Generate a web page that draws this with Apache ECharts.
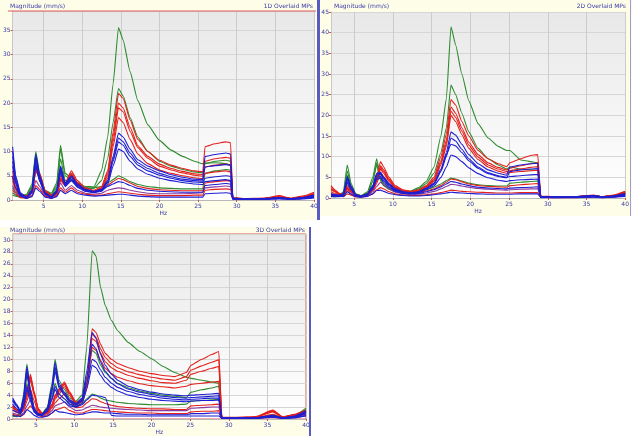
<!DOCTYPE html>
<html>
<head>
<meta charset="utf-8">
<script src="https://cdn.jsdelivr.net/npm/echarts@6/dist/echarts.min.js"></script>
<style>
  html, body { margin: 0; padding: 0; background: #fff; }
  #chart { width: 632px; height: 436px; }
</style>
</head>
<body>
<div id="chart"></div>
<script>
// ---- panel 1 (top left) ----
const p1Hz = [1,1.4,2,2.8,3.5,4,4.5,5.2,6,6.7,7.2,7.8,8.6,9.4,10.4,11.5,12.5,13.3,14,14.7,15.3,16.2,17.2,18.5,20,21.5,23,24.5,25.6,25.9,27.2,28.6,29.2,29.5,31,33.5,35.5,37,38.5,40];
const p1Green1 = [2.5,1.6,0.9,1.2,3.2,10,5.5,2,1.4,3.5,11.3,5.5,4.6,3.6,2.8,2.7,6,13,24,35.6,33,26.5,20.5,15.5,12.3,10.3,9,8,7.5,7.6,7.7,7.5,7.2,0.4,0.3,0.3,0.5,0.3,0.5,1.2];
const p1Green2 = [1.5,1,0.6,1,2.8,9.5,5,1.8,1.2,3,10.5,5,4.2,3.2,2.5,2.4,4,8.5,16,23,21.5,17,13,10,8,7,6.3,5.8,5.6,7.5,8,8.2,8,0.3,0.2,0.3,0.4,0.3,0.4,0.9];
const p1Green3 = [1,0.8,0.5,0.8,2.5,8,4,1.6,1,2.5,8.5,4,4,3,2.4,2.5,2.8,3.5,4.2,5,4.6,3.8,3.2,2.8,2.5,2.4,2.3,2.3,2.3,5.5,6,6.3,6.2,0.3,0.2,0.2,0.4,0.2,0.4,0.8];
const p1Red1 = [6,3,1.2,0.8,2,7,5.5,2,1,1.5,5,3.5,6,4,2.5,2,2.8,6,14,22,21,16.5,12.5,10,8.2,7.2,6.5,6,5.8,11,11.6,12,11.8,0.5,0.3,0.4,0.7,0.4,0.8,1.6];
const p1Red2 = [5,2.5,1,0.8,1.8,6.5,5,1.8,0.9,1.3,4.5,3.2,5.5,3.6,2.2,1.8,2.5,5.5,13,20,19,15,11.2,9,7.4,6.5,5.9,5.4,5.2,8,8.5,8.8,8.6,0.4,0.2,0.3,0.6,0.3,0.6,1.3];
const p1Red3 = [4,2,0.8,0.7,1.5,6,4.5,1.5,0.8,1.2,4,3,5,3.2,2,1.6,2.2,4.5,11,17,16,12.5,9.5,7.5,6.2,5.5,5,4.6,4.4,5.5,5.8,6,5.8,0.3,0.2,0.2,0.5,0.2,0.5,1];
const p1Red4 = [5,2.5,1,0.7,1.5,6,4.5,1.6,0.8,1.2,4.5,3,5.5,3.5,2.2,1.8,2,3,3.8,4.5,4.2,3.5,2.8,2.4,2.1,2,1.9,1.9,1.9,3.5,3.8,4,3.9,0.3,0.2,0.3,0.9,0.3,0.6,1.4];
const p1Red5 = [2,1.2,0.5,0.3,0.8,3,2.2,0.8,0.3,0.8,2.5,1.6,2.5,1.6,1.2,1,1,1.3,1.5,1.7,1.6,1.4,1.2,1,0.9,0.9,0.9,1,1,2,2.2,2.3,2.2,0.2,0.2,0.2,0.4,0.2,0.4,0.9];
const p1Red6 = [4.5,2.2,0.9,0.7,1.6,6.2,4.8,1.7,0.9,1.3,4.2,3.1,5.2,3.4,2.1,1.7,2.4,5,12,19,18.2,14.2,10.8,8.6,7,6.2,5.6,5.1,4.9,6.8,7.2,7.4,7.2,0.3,0.2,0.3,0.5,0.3,0.5,1.2];
const p1Blue1 = [11,5,1.5,0.6,2,9.5,5,1.5,0.7,2,7,3.5,5,3.3,2.2,1.8,2.2,4,9,13.8,13,10.5,8.3,7,6,5.2,4.7,4.3,4.2,9,9.4,9.7,9.5,0.4,0.2,0.3,0.5,0.3,0.5,1];
const p1Blue2 = [9,4,1.2,0.5,1.8,8.5,4.5,1.3,0.6,1.8,6.5,3.2,4.6,3,2,1.6,2,3.6,8,12,11.3,9,7.2,6,5.1,4.5,4,3.7,3.6,4.5,4.8,5,4.9,0.3,0.2,0.2,0.4,0.2,0.4,0.8];
const p1Blue3 = [7,3.5,1,0.5,1.5,7.5,4,1.2,0.5,1.6,6,3,4.2,2.8,1.8,1.5,1.8,3.2,7,10.5,10,8,6.4,5.3,4.5,4,3.6,3.3,3.2,3.8,4,4.2,4,0.3,0.2,0.2,0.4,0.2,0.3,0.7];
const p1Blue4 = [8,3.5,1,0.5,1.5,7,3.8,1.2,0.5,1.5,5.5,2.8,4,2.6,1.8,1.6,1.9,2.8,3.3,3.8,3.6,3,2.4,2,1.8,1.7,1.6,1.6,1.6,3,3.2,3.4,3.3,0.2,0.1,0.2,0.4,0.2,0.3,0.6];
const p1Blue5 = [5,2.5,0.8,0.3,0.7,2.5,1.8,0.6,0.3,0.7,2,1.3,2,1.3,1,0.8,0.9,1,1.1,1.2,1.2,1,0.8,0.7,0.6,0.6,0.6,0.6,0.6,1.3,1.4,1.5,1.4,0.1,0.1,0.1,0.2,0.1,0.2,0.4];
const p1Blue6 = [10,4.5,1.3,0.5,1.9,9,4.8,1.4,0.6,1.9,6.8,3.3,4.8,3.1,2.1,1.7,2.1,3.8,8.5,12.8,12,9.7,7.7,6.5,5.5,4.8,4.3,4,3.9,6.8,7.1,7.3,7.2,0.3,0.2,0.2,0.4,0.2,0.4,0.9];
const p1Purple = [3,1.5,0.6,0.4,1,4,2.8,1,0.4,1,3.5,2,3,2,1.4,1.2,1.4,2,2.3,2.5,2.4,2,1.7,1.4,1.3,1.3,1.3,1.4,1.5,2.5,2.7,2.9,2.8,0.2,0.1,0.2,0.3,0.2,0.3,0.5];

// ---- panel 2 (top right) ----
const p2Hz = [2,2.5,3,3.6,4.1,4.6,5.2,5.9,6.7,7.4,7.9,8.4,8.8,9.5,10.3,11.3,12.3,13.3,14.3,15.3,16.2,16.9,17.5,18.1,18.9,19.8,21,22.3,23.6,24.7,25.1,26.5,27.8,28.7,29.1,31,33.5,35.9,37,38.5,40];
const p2Green1 = [0.5,0.4,0.6,1.5,8,3.5,1,0.6,1.5,5,9.5,5,3.5,2.4,1.8,1.6,1.7,2.5,4,7.5,15,24,41.4,37,30,23.5,18,14.5,12.5,11.5,11.5,9.2,8.8,8.5,0.4,0.3,0.3,0.6,0.3,0.6,1.5];
const p2Green2 = [0.4,0.3,0.5,1.2,6.5,3,0.9,0.5,1.2,4,8.5,4.5,3.2,2.2,1.6,1.4,1.5,2.2,3.5,6,11,17,27.3,25,20.5,16,12,9.5,8,7,7.5,7,6.8,6.6,0.3,0.2,0.2,0.5,0.2,0.5,1.2];
const p2Green3 = [0.5,0.4,0.5,1,5.5,2.6,0.8,0.5,1.2,4,8,4.2,3,2.1,1.5,1.3,1.3,1.6,2,2.6,3.4,4.2,4.8,4.6,4.1,3.6,3.2,3,2.9,2.9,3.6,3.8,4,4.1,0.3,0.2,0.2,0.4,0.2,0.4,1];
const p2Red1 = [3,2,1.2,0.8,3,2,0.8,0.5,1,2.5,5,8.8,7.5,5,3,2,1.6,2,3,5,10,15.5,23.8,22.5,18.5,15,11.5,9.5,8.3,7.6,8.5,9.5,10.3,10.5,0.5,0.3,0.3,0.7,0.3,0.7,1.6];
const p2Red2 = [2.5,1.8,1,0.7,2.6,1.8,0.7,0.4,0.9,2.2,4.5,7.8,6.8,4.5,2.7,1.8,1.5,1.8,2.8,4.5,9,14,22,20.5,17,13.5,10.5,8.5,7.4,6.8,7.2,7.8,8.3,8.5,0.4,0.3,0.3,0.6,0.3,0.6,1.4];
const p2Red3 = [2,1.5,0.9,0.6,2.2,1.5,0.6,0.4,0.8,2,4,7,6,4,2.4,1.6,1.4,1.7,2.6,4,8,12.5,20,18.5,15.3,12,9.3,7.5,6.5,6,6.2,6.4,6.6,6.7,0.3,0.2,0.3,0.5,0.3,0.5,1.2];
const p2Red4 = [1.5,1.1,0.8,0.6,2,1.4,0.6,0.3,0.7,1.8,3.5,6.2,5.2,3.4,2,1.3,1.1,1.3,1.7,2.2,3,3.8,4.6,4.4,3.9,3.4,3,2.8,2.7,2.6,3,3.2,3.4,3.5,0.3,0.2,0.2,0.5,0.2,0.5,1.2];
const p2Red5 = [0.6,0.5,0.4,0.3,1,0.7,0.3,0.2,0.4,1,2,2.5,2.2,1.5,1,0.7,0.6,0.6,0.8,1,1.3,1.6,1.9,1.8,1.6,1.5,1.4,1.3,1.2,1.2,1.2,1.3,1.3,1.3,0.2,0.1,0.1,0.3,0.1,0.3,0.5];
const p2Red6 = [2.2,1.6,1,0.7,2.4,1.6,0.6,0.4,0.8,2.1,4.2,7.4,6.4,4.2,2.5,1.7,1.5,1.8,2.7,4.2,8.5,13.2,21,19.5,16.2,12.8,9.9,8,7,6.4,6.6,7,7.4,7.6,0.4,0.3,0.3,0.6,0.3,0.6,1.3];
const p2Blue1 = [1,0.8,0.7,1,5.2,2.8,0.8,0.5,1,3,6,6.2,5,3.5,2.2,1.5,1.3,1.5,2.4,3.6,7,11,16,15.2,13,10.5,8.3,6.8,6,5.5,7.5,8,8.3,8.4,0.3,0.2,0.3,0.6,0.3,0.5,1.1];
const p2Blue2 = [0.8,0.6,0.6,0.9,4.5,2.5,0.7,0.4,0.9,2.7,5.5,5.8,4.6,3.2,2,1.4,1.2,1.4,2.2,3.3,6.4,10,14.5,13.8,11.8,9.5,7.5,6.1,5.4,5,5.2,5.4,5.6,5.7,0.3,0.2,0.2,0.5,0.2,0.4,0.9];
const p2Blue3 = [0.7,0.5,0.5,0.8,4,2.2,0.6,0.4,0.8,2.4,5,5.3,4.2,2.9,1.8,1.3,1.1,1.3,2,2.9,5,7.5,10.4,10,8.8,7.3,5.9,4.9,4.3,4,4.2,4.4,4.5,4.6,0.2,0.2,0.2,0.4,0.2,0.4,0.8];
const p2Blue4 = [0.6,0.5,0.4,0.7,3.6,2,0.5,0.3,0.7,2.2,4.5,4.8,3.8,2.6,1.6,1.1,1,1.1,1.5,2,2.7,3.4,4,3.8,3.4,3,2.6,2.4,2.3,2.2,2.4,2.5,2.6,2.7,0.2,0.1,0.2,0.6,0.2,0.3,0.7];
const p2Blue5 = [0.4,0.3,0.3,0.4,1.5,0.9,0.3,0.2,0.4,1,1.8,1.9,1.6,1.1,0.8,0.6,0.5,0.5,0.6,0.8,1,1.2,1.4,1.3,1.2,1.1,1,0.9,0.9,0.9,0.9,1,1,1,0.1,0.1,0.1,0.2,0.1,0.2,0.4];
const p2Blue6 = [0.9,0.7,0.6,0.9,4.8,2.6,0.7,0.4,0.9,2.8,5.8,6,4.8,3.3,2.1,1.4,1.2,1.4,2.3,3.4,6.6,10.5,13,12.6,11,9,7.2,5.9,5.2,4.9,6.4,6.8,7,7.1,0.3,0.2,0.2,0.5,0.2,0.4,1];
const p2Purple = [1,0.8,0.6,0.5,1.6,1.1,0.4,0.3,0.6,1.5,2.8,3.8,3.2,2.2,1.4,1,0.8,0.9,1.2,1.6,2.2,2.8,3.3,3.2,2.9,2.6,2.3,2.1,2,1.9,2,2.1,2.2,2.2,0.2,0.1,0.1,0.3,0.1,0.3,0.6];

// ---- panel 3 (bottom left) ----
const p3Hz = [2,2.5,3,3.4,3.85,4.3,4.8,5.3,5.8,6.5,7.1,7.5,8,8.7,9.4,10.2,11,11.6,12.3,12.8,13.4,14,14.8,15.6,17,18.5,20,21.5,23,24.5,25.1,26.5,27.8,28.7,29.1,31,33.5,35.7,37,38.5,40];
const p3Green1 = [0.6,0.5,1,4,9.2,5,1.8,1,0.9,2,6,10,6.5,5,3.5,3,4,12,28.2,27.3,22,19,16.5,14.8,12.8,11.3,10.1,8.8,7.8,7,6.8,6.5,6.2,6,0.3,0.2,0.2,0.7,0.3,0.6,1.8];
const p3Green2 = [0.5,0.4,0.8,3,7.5,4.2,1.5,0.8,0.8,1.8,5,8.5,5.5,4.3,3,2.6,3.4,7,11.5,11,9,7.8,6.8,6,5.2,4.7,4.3,4,3.8,3.6,4.5,4.9,5.2,5.5,0.2,0.2,0.2,0.6,0.2,0.5,1.5];
const p3Green3 = [0.5,0.4,0.7,2.5,6,3.5,1.3,0.7,0.7,1.5,4,6,4.2,3.4,2.5,2.2,2.6,3.4,4.2,4,3.5,3.2,3,2.8,2.6,2.5,2.4,2.4,2.4,2.5,3,3.1,3.2,3.3,0.2,0.1,0.2,0.5,0.2,0.4,1.2];
const p3Red1 = [2.2,1.6,1.3,2,4.5,7.5,4.5,1.8,1,1.2,2.5,4,5,6.2,4.5,2.8,3.3,6,15.1,14.5,12.5,11,10,9.3,8.6,8,7.6,7.3,7.1,7.8,9,10,10.8,11.3,0.3,0.3,0.4,1.5,0.4,0.8,1.5];
const p3Red2 = [2,1.5,1.2,1.8,4,7,4.2,1.6,0.9,1.1,2.3,3.6,4.6,5.8,4.2,2.6,3,5.5,13.5,13,11,9.6,8.6,8,7.3,6.8,6.4,6.1,6,6.5,7.5,8,8.5,8.8,0.3,0.2,0.3,1.3,0.3,0.7,1.3];
const p3Red3 = [1.8,1.4,1.1,1.6,3.6,6.5,4,1.5,0.8,1,2,3.3,4.2,5.4,3.9,2.4,2.8,5,12,11.5,9.8,8.5,7.6,7,6.4,5.9,5.6,5.4,5.2,5.5,5.8,6,6.2,6.3,0.2,0.2,0.3,1.2,0.3,0.6,1.1];
const p3Red4 = [1.5,1.1,0.9,1.4,3,5,3,1.2,0.7,0.9,1.8,2.7,3.4,4.2,3,1.9,2,2.7,3.4,3.3,2.9,2.6,2.3,2.1,1.9,1.8,1.7,1.7,1.6,1.6,2.2,2.3,2.4,2.5,0.2,0.1,0.2,0.8,0.2,0.4,1];
const p3Red5 = [0.8,0.6,0.5,0.7,1.5,2.2,1.4,0.6,0.4,0.5,1,1.5,1.7,2,1.4,1,1,1.3,1.6,1.6,1.5,1.4,1.3,1.2,1.1,1,1,0.9,0.9,0.9,1.2,1.3,1.3,1.4,0.1,0.1,0.1,0.4,0.1,0.3,0.6];
const p3Red6 = [2.1,1.5,1.2,1.9,4.2,7.2,4.3,1.7,0.9,1.1,2.4,3.8,4.8,6,4.3,2.7,3.1,5.8,14.2,13.7,11.7,10.3,9.3,8.6,7.9,7.4,7,6.7,6.5,7.1,8.2,8.9,9.5,9.9,0.3,0.2,0.3,1.4,0.3,0.7,1.4];
const p3Blue1 = [3.5,2.5,1.4,3.5,8.8,4.8,1.6,0.9,0.8,1.8,5.5,9.5,6,4.5,3.2,2.6,3.5,8,14.5,13.5,10.8,9,7.5,6.5,5.5,4.9,4.5,4.2,4,3.9,4,4.1,4.2,4.3,0.2,0.2,0.2,0.6,0.2,0.5,1.4];
const p3Blue2 = [3,2.2,1.2,3,7.5,4.2,1.4,0.8,0.7,1.6,4.5,8,5.2,4,2.8,2.3,3,6,10,9.6,8.2,7,6,5.3,4.6,4.1,3.8,3.5,3.3,3.2,3.3,3.4,3.5,3.5,0.2,0.1,0.2,0.5,0.2,0.4,1.1];
const p3Blue3 = [2.5,1.8,1,2.5,5.5,3.6,1.2,0.7,0.6,1.4,3.5,5.5,4.2,3.4,2.5,2,2.6,5,9,8.6,7.3,6.2,5.3,4.7,4,3.6,3.3,3.1,3,2.9,3,3.1,3.1,3.2,0.2,0.1,0.2,0.4,0.2,0.3,0.9];
const p3Blue4 = [1.5,1.2,0.9,2,5,3,1.1,0.6,0.6,1.3,3.2,5,3.6,2.9,2.2,2,2.4,3.2,4,3.9,3.8,3.6,0.6,0.5,0.5,0.5,0.5,0.5,0.5,0.5,0.5,0.5,0.5,0.5,0.1,0.1,0.1,0.3,0.1,0.2,0.6];
const p3Blue5 = [0.6,0.5,0.4,0.8,1.6,1.2,0.6,0.3,0.3,0.5,1,1.5,1.2,1.1,0.9,0.7,0.8,1,1.2,1.2,1.1,1,1,0.9,0.8,0.8,0.7,0.7,0.7,0.7,0.9,0.9,1,1,0.1,0.1,0.1,0.3,0.1,0.2,0.5];
const p3Blue6 = [3.2,2.3,1.3,3.2,8.2,4.5,1.5,0.8,0.7,1.7,5,8.8,5.6,4.2,3,2.4,3.2,7,12.5,11.8,9.5,8,6.8,5.9,5,4.5,4.1,3.8,3.6,3.5,3.6,3.7,3.8,3.9,0.2,0.1,0.2,0.5,0.2,0.4,1.2];
const p3Purple = [1,0.8,0.6,1,2.2,3.2,2,0.9,0.5,0.7,1.4,2.2,2.5,2.8,2,1.4,1.5,1.9,2.3,2.2,2,1.9,1.8,1.7,1.6,1.5,1.4,1.4,1.4,1.4,1.8,1.9,2,2,0.1,0.1,0.1,0.5,0.1,0.3,0.8];

const titles = ['Magnitude (mm/s)', 'Magnitude (mm/s)', 'Magnitude (mm/s)'];
const overlayNames = ['1D Overlaid MPs', '2D Overlaid MPs', '3D Overlaid MPs'];

const GREEN = '#2e8b2e', RED = '#e3201c', BLUE = '#1e1ed2', PURPLE = '#8a3a9e';
const LABEL = '#3a3aa8';

const chart = echarts.init(document.getElementById('chart'));

const panels = [
  { hz: p1Hz, lines: [[p1Green1, GREEN], [p1Green2, GREEN], [p1Green3, GREEN], [p1Purple, PURPLE],
      [p1Red1, RED], [p1Red2, RED], [p1Red6, RED], [p1Red3, RED], [p1Red4, RED], [p1Red5, RED],
      [p1Blue1, BLUE], [p1Blue6, BLUE], [p1Blue2, BLUE], [p1Blue3, BLUE], [p1Blue4, BLUE], [p1Blue5, BLUE]] },
  { hz: p2Hz, lines: [[p2Green1, GREEN], [p2Green2, GREEN], [p2Green3, GREEN], [p2Purple, PURPLE],
      [p2Red1, RED], [p2Red2, RED], [p2Red6, RED], [p2Red3, RED], [p2Red4, RED], [p2Red5, RED],
      [p2Blue1, BLUE], [p2Blue6, BLUE], [p2Blue2, BLUE], [p2Blue3, BLUE], [p2Blue4, BLUE], [p2Blue5, BLUE]] },
  { hz: p3Hz, lines: [[p3Green1, GREEN], [p3Green2, GREEN], [p3Green3, GREEN], [p3Purple, PURPLE],
      [p3Red1, RED], [p3Red6, RED], [p3Red2, RED], [p3Red3, RED], [p3Red4, RED], [p3Red5, RED],
      [p3Blue1, BLUE], [p3Blue6, BLUE], [p3Blue2, BLUE], [p3Blue3, BLUE], [p3Blue4, BLUE], [p3Blue5, BLUE]] }
];

const plotFill = new echarts.graphic.LinearGradient(0, 0, 0, 1, [
  { offset: 0, color: '#e8e8e8' },
  { offset: 1, color: '#ffffff' }
]);

function xAxisFor(gridIndex, min) {
  return {
    type: 'value', gridIndex: gridIndex, min: min, max: 40,
    minInterval: 5, maxInterval: 5,
    name: 'Hz', nameLocation: 'middle', nameGap: 10,
    nameTextStyle: { fontSize: 6, color: LABEL },
    axisLine: { show: true, lineStyle: { color: '#b8b8b8' } },
    axisTick: { show: true, length: 2, lineStyle: { color: '#d05050' } },
    axisLabel: { fontSize: 6, color: LABEL, margin: 3, showMinLabel: false },
    splitLine: { show: true, lineStyle: { color: '#cccccc' } }
  };
}

function yAxisFor(gridIndex, max, interval) {
  return {
    type: 'value', gridIndex: gridIndex, min: 0, max: max, interval: interval,
    axisLine: { show: true, lineStyle: { color: '#c8c8c8' } },
    axisTick: { show: true, length: 2, lineStyle: { color: '#d05050' } },
    axisLabel: { fontSize: 6, color: LABEL, margin: 2, showMaxLabel: max % interval === 0 },
    splitLine: { show: true, lineStyle: { color: '#d6d6d6' } }
  };
}

const series = [];
panels.forEach(function (p, gi) {
  p.lines.forEach(function (l) {
    series.push({
      type: 'line',
      xAxisIndex: gi, yAxisIndex: gi,
      showSymbol: false,
      silent: true,
      smooth: 0.15,
      smoothMonotone: 'x',
      lineStyle: { width: 1.1, color: l[1] },
      data: p.hz.map(function (f, i) { return [f, l[0][i]]; })
    });
  });
});

function headText(x, y, text, align) {
  return { type: 'text', z: 10, style: { x: x, y: y, text: text, fontSize: 6, fill: LABEL, align: align || 'left', fontFamily: 'DejaVu Sans' } };
}

const option = {
  animation: false,
  backgroundColor: '#ffffff',
  textStyle: { fontFamily: 'DejaVu Sans' },
  grid: [
    { left: 8, top: 11, width: 306, height: 189, show: true, backgroundColor: plotFill, borderWidth: 0 },
    { left: 331, top: 12, width: 296, height: 186, show: true, backgroundColor: plotFill, borderWidth: 0 },
    { left: 8, top: 234, width: 298, height: 189, show: true, backgroundColor: plotFill, borderColor: '#e05a5a', borderWidth: 1 }
  ],
  xAxis: [xAxisFor(0, 1), xAxisFor(1, 2), xAxisFor(2, 2)],
  yAxis: [yAxisFor(0, 39, 5), yAxisFor(1, 45, 5), yAxisFor(2, 31, 2)],
  graphic: [
    { type: 'rect', z: -100, shape: { x: 0, y: 0, width: 318, height: 220 }, style: { fill: '#fdfde8' } },
    { type: 'rect', z: -100, shape: { x: 320, y: 0, width: 312, height: 216 }, style: { fill: '#fdfde8' } },
    { type: 'rect', z: -100, shape: { x: 0, y: 227, width: 310, height: 209 }, style: { fill: '#fdfde8' } },
    { type: 'rect', z: 10, shape: { x: 317, y: 0, width: 3, height: 220 }, style: { fill: '#5a5ac4' } },
    { type: 'rect', z: 10, shape: { x: 309, y: 227, width: 2, height: 209 }, style: { fill: '#5a5ac4' } },
    { type: 'rect', z: 10, shape: { x: 630, y: 0, width: 1, height: 216 }, style: { fill: '#9a9ad8' } },
    { type: 'line', z: 10, shape: { x1: 8, y1: 11, x2: 316, y2: 11 }, style: { stroke: '#e05a5a', lineWidth: 1 } },
    headText(10, 3, titles[0]),
    headText(313, 3, overlayNames[0], 'right'),
    headText(334, 3, titles[1]),
    headText(626, 3, overlayNames[1], 'right'),
    headText(10, 227, titles[2]),
    headText(305, 227, overlayNames[2], 'right')
  ],
  series: series
};

chart.setOption(option);
</script>
</body>
</html>
